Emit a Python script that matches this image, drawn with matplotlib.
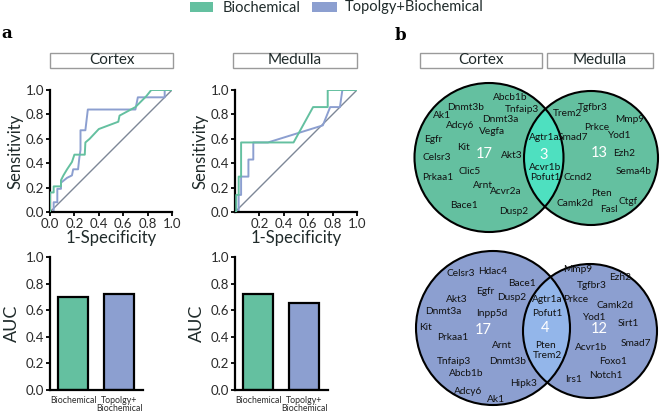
import matplotlib
matplotlib.use("Agg")
import matplotlib.pyplot as plt
from matplotlib.patches import Circle, Rectangle

plt.rcParams['font.family'] = ['Lato', 'DejaVu Sans']

# ---------------- data ----------------
series_names = ["Biochemical", "Topolgy+Biochemical"]
bar_labels = ["Biochemical", "Topolgy+\nBiochemical"]

cortex_bio_fpr = [0, 0, 0.03, 0.03, 0.09, 0.09, 0.11, 0.14, 0.18, 0.20, 0.285, 0.29, 0.325, 0.40, 0.56, 0.57, 0.70, 0.73, 0.79, 0.83, 1.0]
cortex_bio_tpr = [0, 0.16, 0.16, 0.21, 0.21, 0.26, 0.30, 0.35, 0.41, 0.47, 0.47, 0.57, 0.60, 0.68, 0.74, 0.79, 0.86, 0.89, 0.95, 1.0, 1.0]
cortex_top_fpr = [0, 0.03, 0.03, 0.06, 0.06, 0.09, 0.09, 0.14, 0.18, 0.19, 0.23, 0.24, 0.25, 0.25, 0.29, 0.31, 0.70, 0.72, 0.94, 0.94, 1.0]
cortex_top_tpr = [0, 0, 0.08, 0.08, 0.19, 0.19, 0.24, 0.28, 0.30, 0.35, 0.35, 0.44, 0.51, 0.67, 0.67, 0.84, 0.84, 0.94, 0.94, 1.0, 1.0]

medulla_bio_fpr = [0, 0.01, 0.01, 0.03, 0.03, 0.05, 0.05, 0.48, 0.64, 0.76, 0.76, 1.0]
medulla_bio_tpr = [0, 0, 0.14, 0.14, 0.29, 0.29, 0.57, 0.57, 0.86, 0.86, 1.0, 1.0]
medulla_top_fpr = [0, 0.03, 0.03, 0.05, 0.05, 0.11, 0.11, 0.15, 0.15, 0.27, 0.72, 0.78, 0.86, 0.88, 1.0]
medulla_top_tpr = [0, 0, 0.14, 0.14, 0.29, 0.29, 0.43, 0.43, 0.57, 0.57, 0.71, 0.86, 0.86, 1.0, 1.0]

cortex_auc = [0.70, 0.725]
medulla_auc = [0.72, 0.655]

roc_xticks = [0.0, 0.2, 0.4, 0.6, 0.8, 1.0]
medulla_roc_xticks = [0.2, 0.4, 0.6, 0.8, 1.0]
yticks = [0.0, 0.2, 0.4, 0.6, 0.8, 1.0]

# Venn gene lists (Biochemical)
bio_cortex_only = ["Abcb1b", "Dnmt3b", "Tnfaip3", "Ak1", "Dnmt3a", "Adcy6", "Vegfa", "Egfr", "Kit",
                   "Akt3", "Celsr3", "Clic5", "Prkaa1", "Arnt", "Acvr2a", "Bace1", "Dusp2"]
bio_shared = ["Agtr1a", "Acvr1b", "Pofut1"]
bio_medulla_only = ["Trem2", "Tgfbr3", "Mmp9", "Prkce", "Smad7", "Yod1", "Ezh2", "Sema4b", "Ccnd2",
                    "Pten", "Camk2d", "Ctgf", "Fasl"]
# Venn gene lists (Topolgy+Biochemical)
top_cortex_only = ["Celsr3", "Hdac4", "Bace1", "Egfr", "Akt3", "Dusp2", "Dnmt3a", "Inpp5d", "Kit",
                   "Prkaa1", "Arnt", "Tnfaip3", "Dnmt3b", "Abcb1b", "Hipk3", "Adcy6", "Ak1"]
top_shared = ["Agtr1a", "Pofut1", "Pten", "Trem2"]
top_medulla_only = ["Mmp9", "Ezh2", "Tgfbr3", "Prkce", "Camk2d", "Yod1", "Sirt1", "Smad7", "Acvr1b",
                    "Foxo1", "Notch1", "Irs1"]

# ---------------- layout (pixel positions of labels) ----------------
pos_bio_cortex = [(510, 98), (466, 107), (522, 109), (442, 116), (500, 119), (460, 125), (492, 131),
                  (433, 139), (463, 147), (512, 156), (437, 158), (470, 171), (438, 178), (483, 186),
                  (506, 192), (464, 205), (514, 212)]
pos_bio_shared = [(544, 138), (545, 168), (545, 178)]
pos_bio_medulla = [(567, 113), (593, 108), (630, 120), (597, 128), (573, 137), (619, 135), (624, 153),
                   (634, 172), (578, 177), (602, 193), (575, 203), (628, 201), (609, 209)]
pos_top_cortex = [(461, 273), (493, 271), (522, 284), (485, 292), (457, 300), (512, 297), (443, 311),
                  (492, 313), (425, 327), (453, 338), (502, 346), (454, 362), (508, 361), (466, 373),
                  (524, 383), (468, 392), (496, 399)]
pos_top_shared = [(547, 299), (547, 313), (545, 345), (547, 356)]
pos_top_medulla = [(578, 270), (620, 278), (592, 286), (576, 299), (615, 306), (594, 317), (628, 324),
                   (636, 343), (591, 348), (613, 361), (606, 376), (574, 380)]

GREEN = "#64c0a0"
BLUE = "#8c9fd0"
GREEN_OV = "#4ee0c0"
BLUE_OV = "#93b6ea"
DIAG = "#7d8797"
TXT = "#1f2a2a"

W, H = 660, 413
fig = plt.figure(figsize=(6.6, 4.13), dpi=100)


def ax_px(x0, y_top, x1, y_bot):
    return fig.add_axes([x0 / W, 1 - y_bot / H, (x1 - x0) / W, (y_bot - y_top) / H])


def style(ax):
    for s in ["top", "right"]:
        ax.spines[s].set_visible(False)
    for s in ["left", "bottom"]:
        ax.spines[s].set_linewidth(1.6)
        ax.spines[s].set_color("black")
    ax.tick_params(direction="out", length=3, width=1.3, labelsize=9.5, colors="black",
                   labelcolor="#2a2a2a", pad=1)


# ROC axes
roc_specs = [
    (50, 172, cortex_bio_fpr, cortex_bio_tpr, cortex_top_fpr, cortex_top_tpr, roc_xticks),
    (235, 357, medulla_bio_fpr, medulla_bio_tpr, medulla_top_fpr, medulla_top_tpr, medulla_roc_xticks),
]
for x0, x1, bf, bt, tf, tt, xt in roc_specs:
    ax = ax_px(x0, 90, x1, 212)
    style(ax)
    ax.plot([0, 1], [0, 1], color=DIAG, lw=1.0, zorder=1)
    ax.plot(bf, bt, color=GREEN, lw=1.4, zorder=3)
    ax.plot(tf, tt, color=BLUE, lw=1.4, zorder=2)
    ax.set_xlim(0, 1)
    ax.set_ylim(0, 1)
    ax.set_xticks(xt)
    ax.set_xticklabels([f"{v:.1f}" for v in xt])
    ax.set_yticks(yticks)
    ax.set_yticklabels([f"{v:.1f}" for v in yticks])
    ax.set_xlabel("1-Specificity", fontsize=12, color=TXT, labelpad=0)
    ax.set_ylabel("Sensitivity", fontsize=12, color=TXT, labelpad=2)

# AUC bar axes
for x0, vals in [(50, cortex_auc), (235, medulla_auc)]:
    ax = ax_px(x0, 257, x0 + 93, 390)
    style(ax)
    ax.bar([0, 1], vals, width=0.66, color=[GREEN, BLUE], edgecolor="black", linewidth=1.6)
    ax.set_xlim(-0.5, 1.52)
    ax.set_ylim(0, 1)
    ax.set_yticks(yticks)
    ax.set_yticklabels([f"{v:.1f}" for v in yticks])
    ax.set_xticks([0, 1])
    ax.set_xticklabels(bar_labels, fontsize=6.3, linespacing=0.85)
    ax.tick_params(axis="x", length=0, pad=4)
    ax.set_ylabel("AUC", fontsize=13, color=TXT, labelpad=4)

# overlay in pixel coordinates
ov = fig.add_axes([0, 0, 1, 1], zorder=-1)
ov.set_xlim(0, W)
ov.set_ylim(H, 0)
ov.axis("off")

# legend
ov.add_patch(Rectangle((190, 2), 23, 10, facecolor=GREEN, edgecolor="none"))
ov.text(223, 7.5, series_names[0], fontsize=10.5, va="center", ha="left", color=TXT)
ov.add_patch(Rectangle((312, 2), 25, 10, facecolor=BLUE, edgecolor="none"))
ov.text(345, 7.5, series_names[1], fontsize=10.5, va="center", ha="left", color=TXT)

# panel letters
ov.text(7, 34, "a", fontsize=12, fontweight="bold", family="DejaVu Serif", va="center", ha="center")
ov.text(400, 36, "b", fontsize=12, fontweight="bold", family="DejaVu Serif", va="center", ha="center")

# title boxes
for x0, x1, label in [(50, 173, "Cortex"), (233, 357, "Medulla"),
                      (420, 542, "Cortex"), (547, 653, "Medulla")]:
    ov.add_patch(Rectangle((x0, 53), x1 - x0, 15, facecolor="white", edgecolor="#9a9a9a", lw=1.0))
    ov.text((x0 + x1) / 2, 60.5, label, fontsize=11, ha="center", va="center", color=TXT)


def venn(lc, lr, rc, rr, fill, ovc, n_left, n_shared, n_right, num_pos):
    left = Circle(lc, lr, facecolor=fill, edgecolor="none", zorder=1)
    right = Circle(rc, rr, facecolor=fill, edgecolor="none", zorder=1)
    ov.add_patch(left)
    ov.add_patch(right)
    clipc = Circle(lc, lr, transform=ov.transData)
    lens = Circle(rc, rr, facecolor=ovc, edgecolor="none", zorder=2)
    ov.add_patch(lens)
    lens.set_clip_path(clipc)
    ov.add_patch(Circle(lc, lr, facecolor="none", edgecolor="black", lw=1.5, zorder=3))
    ov.add_patch(Circle(rc, rr, facecolor="none", edgecolor="black", lw=1.5, zorder=3))
    for (x, y), n in zip(num_pos, [n_left, n_shared, n_right]):
        ov.text(x, y, str(n), color="white", fontsize=10.5, ha="center", va="center", zorder=4)


def genes(names, positions):
    for g, (x, y) in zip(names, positions):
        ov.text(x, y, g, fontsize=7.3, ha="center", va="center", color="#111111", zorder=4)


venn((489, 157.5), 74.5, (591, 158), 67, GREEN, GREEN_OV,
     len(bio_cortex_only), len(bio_shared), len(bio_medulla_only),
     [(484, 154), (544, 155), (599, 153)])
genes(bio_cortex_only, pos_bio_cortex)
genes(bio_shared, pos_bio_shared)
genes(bio_medulla_only, pos_bio_medulla)

venn((493, 328), 77, (590, 331), 67, BLUE, BLUE_OV,
     len(top_cortex_only), len(top_shared), len(top_medulla_only),
     [(483, 330), (545, 328), (599, 329)])
genes(top_cortex_only, pos_top_cortex)
genes(top_shared, pos_top_shared)
genes(top_medulla_only, pos_top_medulla)

fig.savefig("out.png", dpi=100)
